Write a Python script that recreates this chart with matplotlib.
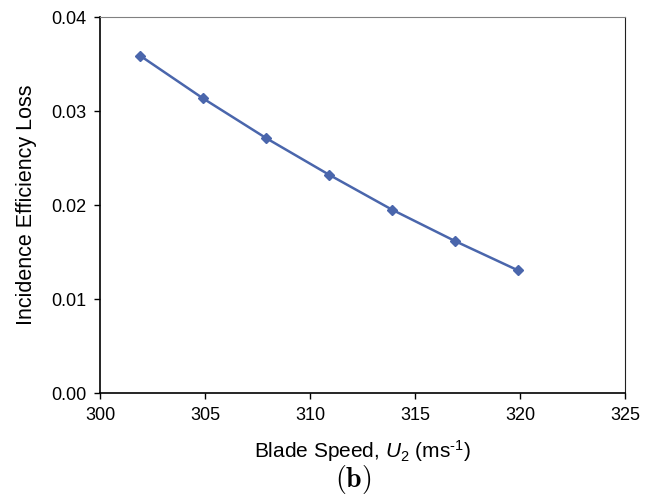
import numpy as np
import matplotlib
matplotlib.use("Agg")
import matplotlib.pyplot as plt

# data
blade_speed = [301.9, 304.9, 307.9, 310.9, 313.9, 316.9, 319.9]
incidence_loss = [0.0359, 0.03135, 0.02713, 0.02323, 0.01951, 0.01617, 0.01305]

plt.rcParams['font.family'] = ['Liberation Sans', 'DejaVu Sans']
plt.rcParams['mathtext.fontset'] = 'custom'
plt.rcParams['mathtext.rm'] = 'Liberation Sans'
plt.rcParams['mathtext.it'] = 'Liberation Sans:italic'

fig = plt.figure(figsize=(6.59, 4.99), dpi=100)
ax = fig.add_axes([100/659, 1 - 393/499, 525/659, 376/499])

ax.plot(blade_speed, incidence_loss, color='#4a66ac', lw=1.8,
        marker='D', markersize=5)

ax.set_xlim(300, 325)
ax.set_ylim(0, 0.04)
ax.set_xticks(np.arange(300, 326, 5))
ax.set_yticks(np.arange(0, 0.041, 0.01))
ax.set_yticklabels(['0.00', '0.01', '0.02', '0.03', '0.04'])
ax.tick_params(direction='out', length=4, width=1, labelsize=13, pad=6)

for s in ['left', 'bottom']:
    ax.spines[s].set_color('black')
    ax.spines[s].set_linewidth(1.2)
ax.spines['top'].set_color('#808080')
ax.spines['right'].set_color('#202020')

ax.set_ylabel('Incidence Efficiency Loss', fontsize=15.5)
ax.set_xlabel(r'Blade Speed, $\mathit{U}_2$ (ms$^{\text{-}1}$)', fontsize=15)
ax.yaxis.set_label_coords(-63/525, 0.5)
ax.xaxis.set_label_coords(0.5, -45/376)

fig.text(353/659, 1 - 480/499, r'$\mathbf{(b)}$', ha='center', va='center',
         fontsize=20, math_fontfamily='cm')

fig.savefig('out.png', dpi=100)
